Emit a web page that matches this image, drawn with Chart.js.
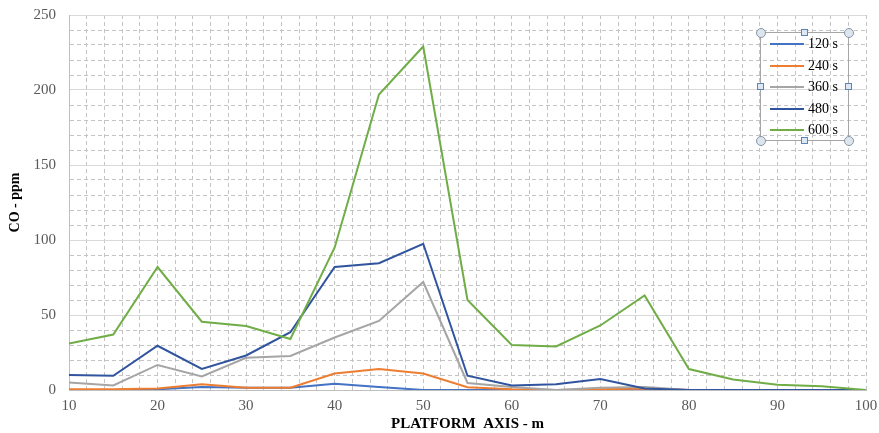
<!DOCTYPE html>
<html>
<head>
<meta charset="utf-8">
<script src="https://cdn.jsdelivr.net/npm/chart.js@4.4.1/dist/chart.umd.min.js"></script>
<style>
  body { margin: 0; background: #fff; }
  #wrap { position: relative; width: 879px; height: 433px; }
  #legend { position: absolute; left: 760px; top: 32px; width: 89px; height: 109px;
            border: 1px solid #a6a6a6; box-sizing: border-box;
            font-family: "Liberation Serif", serif; font-size: 14px; color: #000; }
  .row { position: absolute; left: 0; height: 20px; width: 88px; }
  .row .ln { position: absolute; left: 9px; top: 9px; width: 34px; height: 2px; }
  .row .tx { position: absolute; left: 47px; top: 0; line-height: 20px; white-space: nowrap; }
  .hd { position: absolute; box-sizing: border-box; }
  .hd.c { width: 10px; height: 10px; border-radius: 50%; background: #dde6ef; border: 1px solid #8895a3; }
  .hd.s { width: 7px; height: 7px; background: #dde8f4; border: 1px solid #5b86b8; }
</style>
</head>
<body>
<div id="wrap">
  <canvas id="chart" width="879" height="433"></canvas>
  <div id="legend"></div>
</div>
<script>
// расстояние вдоль оси платформы, м
const positions = [10, 15, 20, 25, 30, 35, 40, 45, 50, 55, 60, 65, 70, 75, 80, 85, 90, 95, 100];

// CO, ppm для каждого момента времени
const co120 = [0, 0, 0.5, 2, 1.5, 1.5, 4.2, 2, 0, 0, 0, 0, 0, 0, 0, 0, 0, 0, 0];
const co240 = [0.5, 0.5, 1, 3.8, 1.5, 1.5, 11, 14, 11, 1.8, 0.5, 0, 0.5, 1, 0, 0, 0, 0, 0];
const co360 = [5, 3, 16.7, 9, 21.5, 22.7, 35, 46, 72, 4.7, 2, 0, 1.5, 2, 0, 0, 0, 0, 0];
const co480 = [10, 9.5, 29.5, 14, 23, 38.5, 82, 84.5, 97.5, 9.5, 3, 3.8, 7.3, 1, 0, 0, 0, 0, 0];
const co600 = [31, 37, 82, 45.5, 42.7, 34, 95, 197, 229, 60, 30, 29, 43, 63, 14, 7, 3.5, 2.5, 0];

const seriesNames = ['120 s', '240 s', '360 s', '480 s', '600 s'];
const seriesData = [co120, co240, co360, co480, co600];
const seriesColors = ['#4472C4', '#ED7D31', '#A5A5A5', '#30549E', '#70AD47'];

const datasets = seriesNames.map((name, i) => ({
    label: name,
    data: positions.map((x, j) => ({ x: x, y: seriesData[i][j] })),
    borderColor: seriesColors[i],
    backgroundColor: seriesColors[i],
    borderWidth: 2,
    pointRadius: 0,
    tension: 0,
    order: seriesNames.length - 1 - i      // последняя серия рисуется сверху, как в Excel
}));

const serif = '"Liberation Serif", "Times New Roman", serif';

new Chart(document.getElementById('chart').getContext('2d'), {
    type: 'line',
    data: { datasets: datasets },
    options: {
        responsive: false,
        animation: false,
        layout: { padding: { top: 15, right: 13, left: 0, bottom: 0 } },
        plugins: { legend: { display: false }, tooltip: { enabled: false } },
        scales: {
            x: {
                type: 'linear',
                min: 10,
                max: 100,
                afterFit: s => { s.height = 43; s.paddingLeft = 0; s.paddingRight = 0; },
                ticks: {
                    stepSize: 2,
                    autoSkip: false,
                    maxRotation: 0,
                    padding: 7,
                    color: '#595959',
                    font: { family: serif, size: 15 },
                    callback: v => (v % 10 === 0 ? v : '')
                },
                grid: { color: '#c4c4c4', lineWidth: 1, drawTicks: false },
                border: { color: '#bfbfbf', dash: [4, 3] },
                title: {
                    display: true,
                    text: 'PLATFORM  AXIS - m',
                    color: '#000',
                    font: { family: serif, size: 15, weight: 'bold' },
                    padding: { top: 0, bottom: 0 }
                }
            },
            y: {
                min: 0,
                max: 250,
                afterFit: s => { s.width = 69; s.paddingTop = 0; s.paddingBottom = 0; },
                ticks: {
                    stepSize: 10,
                    autoSkip: false,
                    padding: 13,
                    color: '#595959',
                    font: { family: serif, size: 15 },
                    callback: v => (v % 50 === 0 ? v : '')
                },
                grid: {
                    drawTicks: false,
                    lineWidth: 1,
                    color: c => (c.tick && c.tick.value % 50 === 0 ? '#d9d9d9' : '#c4c4c4')
                },
                border: {
                    color: '#bfbfbf',
                    dash: c => (c.tick && c.tick.value % 50 !== 0 ? [4, 3] : [])
                },
                title: {
                    display: true,
                    text: 'CO - ppm',
                    color: '#000',
                    font: { family: serif, size: 14, weight: 'bold' },
                    padding: { top: 7, bottom: 0 }
                }
            }
        }
    }
});

// легенда в рамке с маркерами выделения
const legend = document.getElementById('legend');
seriesNames.forEach((name, i) => {
    const row = document.createElement('div');
    row.className = 'row';
    row.style.top = (1 + i * 21.5) + 'px';
    row.innerHTML = '<div class="ln" style="background:' + seriesColors[i] + '"></div><div class="tx">' + name + '</div>';
    legend.appendChild(row);
});
const handles = [
    ['c', 0, 0], ['s', 0.5, 0], ['c', 1, 0],
    ['s', 0, 0.5], ['s', 1, 0.5],
    ['c', 0, 1], ['s', 0.5, 1], ['c', 1, 1]
];
handles.forEach(h => {
    const d = document.createElement('div');
    d.className = 'hd ' + h[0];
    const size = h[0] === 'c' ? 10 : 7;
    d.style.left = (h[1] * 88 - size / 2 - 0.5) + 'px';
    d.style.top = (h[2] * 108 - size / 2 - 0.5) + 'px';
    legend.appendChild(d);
});
</script>
</body>
</html>
